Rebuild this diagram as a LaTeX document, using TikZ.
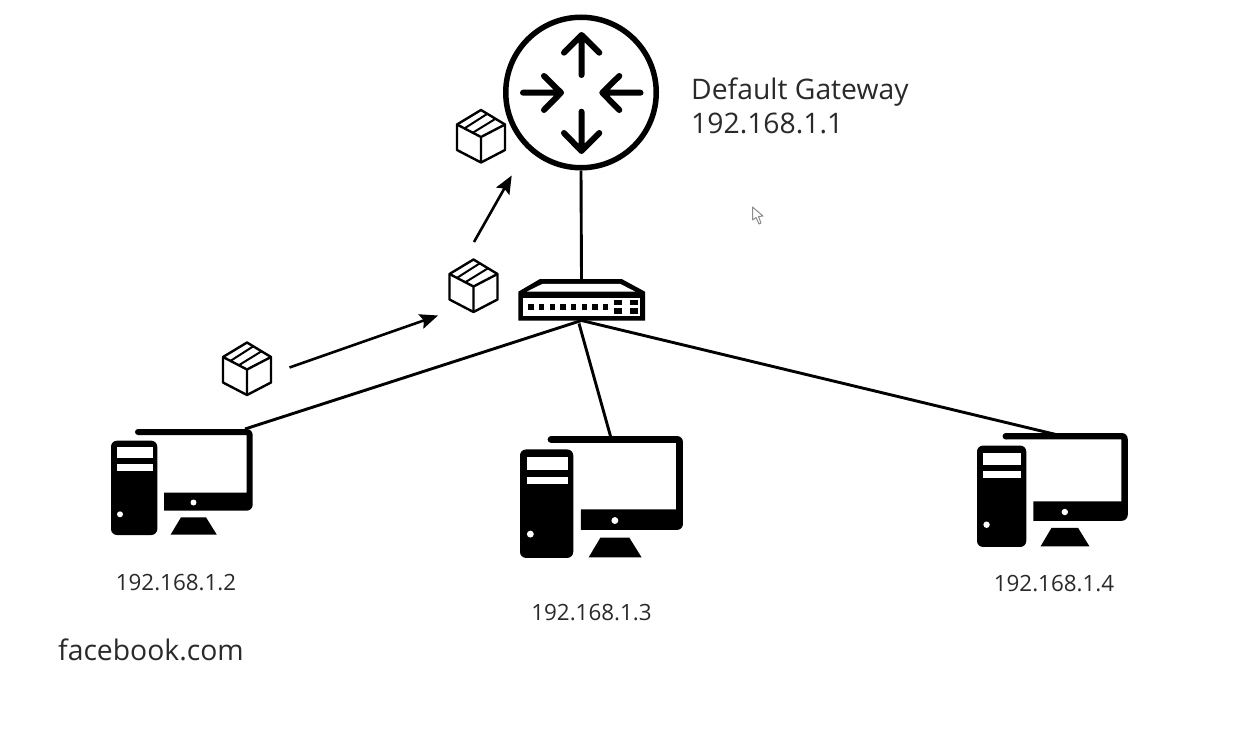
\documentclass[tikz,border=0pt]{standalone}
\usepackage{fontspec}
\setmainfont{Open Sans}
\usetikzlibrary{arrows.meta}
\definecolor{labelink}{HTML}{2A2A2A}
\tikzset{
  px/.style={x=1pt,y=-1pt},
  biglabel/.style={anchor=base west,inner sep=0pt,text=labelink,font=\fontsize{28.3}{33}\selectfont},
  smalllabel/.style={anchor=base,inner sep=0pt,text=labelink,font=\fontsize{22.4}{26}\selectfont},
  wire/.style={line width=2.9pt,black},
  flow/.style={line width=2.6pt,black,-{Stealth[length=18pt,width=15pt,inset=3pt]}},
  routerarrow/.style={line width=6pt,line cap=round,line join=round,black},
  cubeline/.style={line width=2.4pt,line join=round,black},
  cubetape/.style={line width=2pt,black},
  ghost/.style={draw=none,fill=none,inner sep=0pt,outer sep=0pt},
  computer/.pic={
    \fill (27,3) circle (3);
    \fill (27,0)[rounded corners=6pt]--(141.7,0)--(141.7,81.7)[sharp corners]--(53,81.7)--(53,63.7)--(135.7,63.7)--(135.7,6)--(27,6)--cycle;
    \fill[white] (82.5,73.5) circle (3);
    \fill (59.7,105.5)--(105.7,105.5)--(95,88.3)--(70,88.3)--cycle;
    \fill[rounded corners=6pt] (0,11.7) rectangle (46.3,106);
    \fill[white] (5.7,18.3) rectangle (41.7,29.3);
    \fill[white] (5.7,35.3) rectangle (41.7,41.7);
    \fill[white] (9,85.3) circle (3);
  },
  parcel/.pic={
    \draw[cubeline] (0,0)--(24,14.5)--(24,40)--(0,52.5)--(-24,40)--(-24,14.5)--cycle;
    \draw[cubeline] (-24,14.5)--(0,27)--(24,14.5) (0,27)--(0,52.5);
    \draw[cubetape] (-16.7,18.5)--(6,4) (-8.3,22.8)--(14.5,8.8);
  },
}
\begin{document}
\begin{tikzpicture}[px]
\useasboundingbox (0,0) rectangle (1248,744);
\fill[white] (0,0) rectangle (1248,744);

% router
\node[circle,draw=black,line width=5.5pt,minimum size=150.5pt,inner sep=0pt] (router) at (581,92.5) {};
\draw[routerarrow] (581.5,75)--(581.5,35) (564,52.7)--(581.5,35)--(599.3,52.7);
\draw[routerarrow] (581.5,111.7)--(581.5,151) (564,133)--(581.5,151)--(599.3,133);
\draw[routerarrow] (523,92.7)--(561,92.7) (544,76)--(561,92.7)--(544,110);
\draw[routerarrow] (640.5,92.7)--(602.3,92.7) (619.3,76)--(602.3,92.7)--(619.3,110);

% switch
\node[ghost,minimum width=127pt,minimum height=41pt] (switch) at (581.5,300) {};
\fill (518.3,291.7)--(540,279)--(621.7,279)--(645,291.7)--(645,320.5)--(518.3,320.5)--cycle;
\fill[white] (527,291.5)--(542.7,283.8)--(620,283.8)--(635,291.5)--cycle;
\fill[white] (523,298) rectangle (640,315.5);
\foreach \px in {531,541.7,552.3,563,573.7,584.3,595,605.7}
  \fill (\px-2.6,304.3) rectangle (\px+2.6,310);
\foreach \px in {614,630}{
  \fill (\px,299.8) rectangle (\px+7.8,305.3);
  \fill (\px,308) rectangle (\px+7.8,314);
}

% computers
\pic at (111,429) {computer};
\pic[xscale=1.15,yscale=1.15] at (520,436) {computer};
\pic[xscale=1.064,yscale=1.075] at (977,433) {computer};
\coordinate (pc1port) at (245,429);
\coordinate (pc2port) at (611,438);
\coordinate (pc3port) at (1058,435);

% connectors
\draw[wire] (router.south)--(switch.north);
\draw[wire] (switch.south)--(pc1port);
\draw[wire] ([shift={(-2.5,3)}]switch.south)--(pc2port);
\draw[wire] (switch.south)--(pc3port);

% parcels
\pic at (481,110) {parcel};
\pic at (473.5,259.5) {parcel};
\pic at (247,342.5) {parcel};
\coordinate (flowA) at (289.5,367.5);
\coordinate (flowB) at (438,315.5);
\coordinate (flowC) at (474,242);
\coordinate (flowD) at (511.7,175.5);
\draw[flow] (flowA)--(flowB);
\draw[flow] (flowC)--(flowD);

% pointer
\draw[line width=1pt,draw=black!45,fill=white,line join=round] (752.5,207)--(752.5,220)--(756,217.5)--(759,224)--(761,223)--(758.5,216.5)--(763,216)--cycle;

% labels
\node[biglabel] (gwname) at (691,99) {Default Gateway};
\node[biglabel] (gwaddr) at (691,133.5) {192.168.1.1};
\node[biglabel] (site) at (58,660) {facebook.com};
\node[smalllabel] (ip2) at (176,590) {192.168.1.2};
\node[smalllabel] (ip3) at (591.5,620) {192.168.1.3};
\node[smalllabel] (ip4) at (1054,591) {192.168.1.4};
\end{tikzpicture}
\end{document}
